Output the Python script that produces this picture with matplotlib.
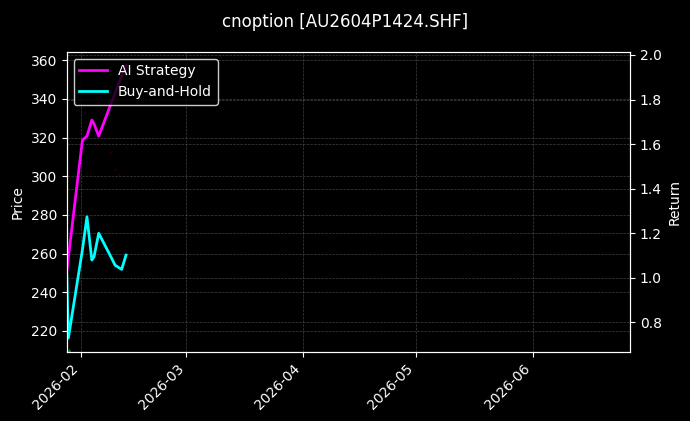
import pandas as pd
import matplotlib
matplotlib.use('Agg')
import matplotlib.pyplot as plt
import matplotlib.dates as mdates

plt.style.use('dark_background')

# series
dates = ['2026-01-28 05:00', '2026-01-28 15:30', '2026-02-01 09:00', '2026-02-02 14:00',
         '2026-02-03 21:00', '2026-02-04 11:00', '2026-02-05 17:00', '2026-02-09 04:00',
         '2026-02-10 01:00', '2026-02-11 19:00', '2026-02-12 23:00']
ai_strategy = [1.027, 1.092, 1.618, 1.636, 1.708, 1.691, 1.636, 1.790, 1.829, 1.906, 1.953]
buy_hold = [1.022, 0.730, 1.126, 1.274, 1.080, 1.095, 1.200, 1.087, 1.057, 1.038, 1.102]

sell_dates = ['2026-02-04 22:00', '2026-02-08 19:00', '2026-02-09 23:00',
              '2026-02-11 02:00', '2026-02-12 21:00']
sell_prices = [316.1, 311.8, 303.2, 300.6, 314.4]
buy_dates = ['2026-01-28 17:30']
buy_prices = [210.2]

x = pd.to_datetime(dates)

fig, ax1 = plt.subplots(figsize=(6.9, 4.21), dpi=100)
fig.subplots_adjust(left=0.0967, right=0.913, top=0.877, bottom=0.1646)
fig.suptitle('cnoption [AU2604P1424.SHF]', fontsize=12, y=0.97)

ax1.scatter(pd.to_datetime(sell_dates), sell_prices, marker='v', s=6, color='#ff0033', alpha=0.12, linewidths=0)
ax1.scatter(pd.to_datetime(buy_dates), buy_prices, marker='^', s=8, color='#00cc44', alpha=0.6, linewidths=0)
ax1.set_ylim(209.3, 364.3)
ax1.set_ylabel('Price')
ax1.grid(True, linestyle='--', linewidth=0.5, color='gray', alpha=0.5)

ax2 = ax1.twinx()
ax2.plot(x, ai_strategy, color='#ff00ff', linewidth=2, label='AI Strategy')
ax2.plot(x, buy_hold, color='#00ffff', linewidth=2, label='Buy-and-Hold')
ax2.set_ylabel('Return')
ax2.grid(True, linestyle='--', linewidth=0.5, color='gray', alpha=0.5)
ax2.legend(loc='upper left', facecolor='black', edgecolor='white', framealpha=0.8)

ax1.set_xlim(pd.Timestamp(dates[0]), pd.Timestamp('2026-06-26 19:00'))
ax1.xaxis.set_major_locator(mdates.MonthLocator())
ax1.xaxis.set_major_formatter(mdates.DateFormatter('%Y-%m'))
plt.setp(ax1.get_xticklabels(), rotation=45, ha='right')

for ax in (ax1, ax2):
    for sp in ax.spines.values():
        sp.set_color('white')

plt.savefig('out.png', dpi=100)
